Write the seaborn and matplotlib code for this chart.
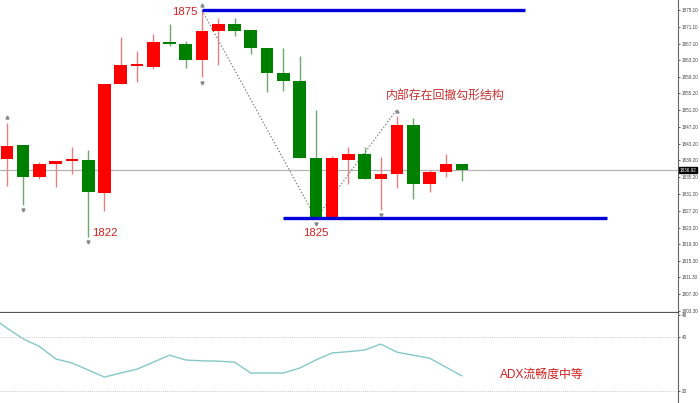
import numpy as np
import pandas as pd
import matplotlib
matplotlib.use("Agg")
import matplotlib.pyplot as plt
import seaborn as sns

# ---------------- data ----------------
opens  = [1839.6, 1842.9, 1835.3, 1838.4, 1839.1, 1839.3, 1831.5, 1857.5, 1861.8, 1861.5,
          1867.5, 1867.0, 1863.2, 1870.1, 1871.8, 1870.4, 1866.1, 1860.1, 1858.2, 1839.8,
          1825.4, 1839.3, 1840.8, 1834.8, 1836.0, 1847.7, 1833.6, 1836.5, 1838.4]
closes = [1842.7, 1835.3, 1838.4, 1839.1, 1839.5, 1831.7, 1857.5, 1862.0, 1862.2, 1867.5,
          1867.0, 1863.2, 1870.1, 1871.8, 1870.1, 1866.1, 1860.1, 1858.2, 1839.8, 1825.4,
          1839.8, 1840.8, 1834.8, 1836.0, 1847.7, 1833.6, 1836.5, 1838.4, 1836.9]
highs  = [1848.2, 1842.9, 1838.9, 1839.1, 1842.4, 1841.7, 1857.5, 1868.7, 1865.4, 1869.4,
          1871.8, 1867.7, 1875.0, 1873.2, 1873.2, 1870.4, 1866.1, 1866.1, 1864.2, 1851.3,
          1840.3, 1842.4, 1842.4, 1840.0, 1849.8, 1849.4, 1836.9, 1840.8, 1838.4]
lows   = [1833.1, 1828.6, 1834.8, 1832.9, 1836.0, 1821.0, 1827.2, 1857.5, 1858.0, 1861.1,
          1866.5, 1861.3, 1859.1, 1862.0, 1868.9, 1864.6, 1855.6, 1855.8, 1839.8, 1825.4,
          1825.4, 1833.6, 1834.8, 1827.4, 1832.7, 1830.0, 1831.7, 1835.3, 1834.3]
adx_vals = [47.6, 43.3, 39.3, 36.5, 31.9, 30.4, 27.8, 25.2, 26.7, 28.1, 30.7,
            33.3, 31.5, 31.2, 31.1, 30.7, 26.7, 26.7, 26.7, 28.5, 31.5,
            34.1, 34.6, 35.2, 37.4, 34.4, 33.3, 32.2, 28.9, 25.6]
current_price = 1836.92
price_ticks = [1875.10, 1871.10, 1867.10, 1863.20, 1859.20, 1855.20, 1851.20, 1847.20,
               1843.20, 1839.20, 1835.20, 1831.20, 1827.20, 1823.20, 1819.30, 1815.30,
               1811.30, 1807.30, 1803.30]
adx_ticks = [48, 40, 20]
label_high = "1875"
label_low1 = "1822"
label_low2 = "1825"
note_main = "内部存在回撤勾形结构"
note_adx = "ADX流畅度中等"

# fractal markers: (index, 'high'/'low')
fractals = [(0, "high"), (1, "low"), (5, "low"), (12, "high"), (12, "low"),
            (19, "low"), (23, "low"), (24, "high")]
zig_idx = [12, 19, 24]

# ---------------- style ----------------
sns.set_theme(style="white")
plt.rcParams["font.family"] = ["Liberation Sans", "Noto Sans CJK SC", "DejaVu Sans"]

UP = "#ff0000"
DOWN = "#008000"
UP_W = "#e88080"
DOWN_W = "#70a870"
BLUE = "#0000d8"
TXT_RED = "#d02020"

fig = plt.figure(figsize=(7.0, 4.03), dpi=100)
ax = fig.add_axes([0.0, 90 / 403, 678 / 700, 313 / 403])
ax2 = fig.add_axes([0.0, 0.0, 678 / 700, 90 / 403])

df = pd.DataFrame({"open": opens, "close": closes, "high": highs, "low": lows})
df["idx"] = np.arange(len(df))
df["up"] = df["close"] >= df["open"]

# current price line
ax.axhline(current_price, color="#b4b4b4", lw=0.9, zorder=1)

# zigzag dotted line
zx = [zig_idx[0], zig_idx[1], zig_idx[2]]
zy = [highs[zig_idx[0]], lows[zig_idx[1]], highs[zig_idx[2]] + 1.6]
ax.plot(zx, zy, color="#707070", lw=0.8, ls=(0, (1.2, 1.8)), zorder=2)

# wicks
for _, r in df.iterrows():
    ax.vlines(r["idx"], r["low"], r["high"], color=UP_W if r["up"] else DOWN_W,
              lw=1.0, zorder=3)
# bodies
bw = 0.77
for _, r in df.iterrows():
    lo = min(r["open"], r["close"])
    h = max(abs(r["close"] - r["open"]), 0.35)
    ax.bar(r["idx"], h, bottom=lo, width=bw, color=UP if r["up"] else DOWN,
           edgecolor="none", zorder=4)

# blue support / resistance lines
ax.hlines(highs[12], 12, 31.9, color=BLUE, lw=2.4, zorder=5)
ax.hlines(lows[19], 17, 36.9, color=BLUE, lw=2.4, zorder=5)

# fractal arrows
for i, kind in fractals:
    if kind == "high":
        ax.plot(i, highs[i] + 1.3, marker="^", ms=2.2, color="#8a8a8a", zorder=6)
    else:
        ax.plot(i, lows[i] - 1.3, marker="v", ms=2.2, color="#8a8a8a", zorder=6)

# annotations
ax.text(11.75, 1874.6, label_high, color=TXT_RED, fontsize=8.2, ha="right", va="center")
ax.text(5.25, 1821.9, label_low1, color=TXT_RED, fontsize=8.2, ha="left", va="center")
ax.text(19.0, 1821.9, label_low2, color=TXT_RED, fontsize=8.2, ha="center", va="center")
ax.text(26.95, 1854.6, note_main, color="#c83030", fontsize=8.6, ha="center", va="center")

# axes for main panel
TICK_FS = 3.3
ax.set_xlim(-0.43, 41.29)
ax.set_ylim(1802.8, 1877.5)
ax.yaxis.tick_right()
ax.set_yticks(price_ticks)
ax.set_yticklabels([f"{t:.2f}" for t in price_ticks])
ax.tick_params(axis="y", labelsize=TICK_FS, colors="#444444", length=1.5, width=0.6, pad=1.0, right=True)
ax.set_xticks([])
for s in ["top", "left"]:
    ax.spines[s].set_visible(False)
ax.spines["right"].set_color("#666666")
ax.spines["right"].set_linewidth(0.8)
ax.spines["bottom"].set_color("#555555")
ax.spines["bottom"].set_linewidth(1.6)
ax.text(1.002, current_price, f"{current_price:.2f}", transform=ax.get_yaxis_transform(),
        fontsize=TICK_FS, color="white", ha="left", va="center",
        bbox=dict(boxstyle="square,pad=0.15", fc="black", ec="black"))
ax.set_facecolor("white")

# ADX panel
adx_df = pd.DataFrame({"i": np.arange(-1, len(adx_vals) - 1), "adx": adx_vals})
sns.lineplot(data=adx_df, x="i", y="adx", ax=ax2, color="#86c8c8", lw=1.0)
for t in [40, 20]:
    ax2.axhline(t, color="#bbbbbb", lw=0.6, ls=(0, (1, 1.5)))
ax2.set_xlim(-0.43, 41.29)
ax2.set_ylim(15.6, 48.9)
ax2.yaxis.tick_right()
ax2.set_yticks(adx_ticks)
ax2.set_yticklabels([str(t) for t in adx_ticks])
ax2.tick_params(axis="y", labelsize=TICK_FS, colors="#444444", length=1.5, width=0.6, pad=1.0, right=True)
ax2.set_xticks([])
ax2.set_xlabel("")
ax2.set_ylabel("")
for s in ["top", "left", "bottom"]:
    ax2.spines[s].set_visible(False)
ax2.spines["right"].set_color("#666666")
ax2.spines["right"].set_linewidth(0.8)
ax2.text(30.34, 25.9, note_adx, color=TXT_RED, fontsize=8.6, ha="left", va="center")

fig.savefig("out.png", dpi=100, facecolor="white")
